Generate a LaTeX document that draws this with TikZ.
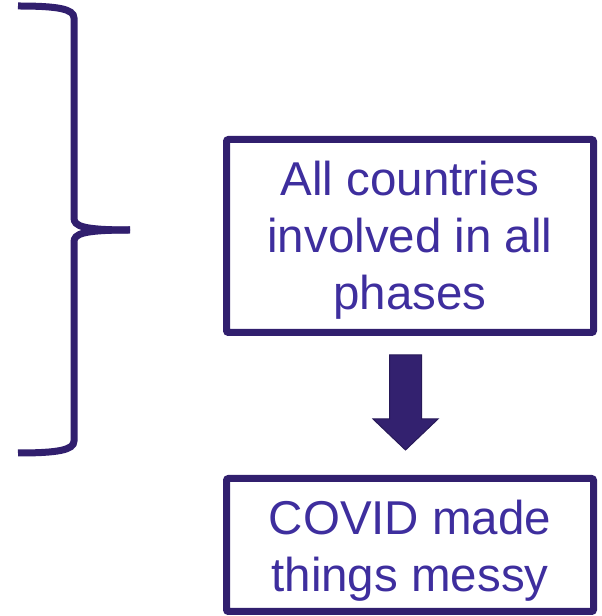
\documentclass[tikz,border=0pt]{standalone}
\usepackage{fontspec}
\setmainfont{Liberation Sans}
\definecolor{framec}{HTML}{311F6E}
\definecolor{textc}{HTML}{3E2E9E}
\definecolor{arrowc}{HTML}{33216F}
\begin{document}
\begin{tikzpicture}[x=1pt,y=1pt,
  boxstyle/.style={draw=framec, line width=7pt, rounded corners=2pt, rectangle, minimum width=367pt, inner sep=0pt},
  txt/.style={text=textc, align=center, font=\fontsize{47.5}{57}\selectfont, inner sep=0pt},
  bracestyle/.style={draw=framec, line width=7pt},
  arrowstyle/.style={fill=arrowc, draw=framec!80!black, line width=1pt, line join=miter}]
\useasboundingbox (0,0) rectangle (602,616);
% boxes
\node[boxstyle, minimum height=193pt] (box1) at (410,380) {};
\node[txt] (t1) at ([yshift=-4pt]box1.center) {All countries\\involved in all\\phases};
\node[boxstyle, minimum height=133pt] (box2) at (410,71) {};
\node[txt] (t2) at ([yshift=-6pt]box2.center) {COVID made\\things messy};
% arrow
\coordinate (at) at ([xshift=-4.5pt,yshift=-19pt]box1.south);
\draw[arrowstyle] ([xshift=-16pt]at) -- ([xshift=16pt]at) -- ([xshift=16pt,yshift=-64pt]at)
  -- ([xshift=32.5pt,yshift=-64pt]at) -- ([yshift=-95pt]at) -- ([xshift=-32.5pt,yshift=-64pt]at)
  -- ([xshift=-16pt,yshift=-64pt]at) -- cycle;
% brace
\coordinate (btop) at (18,610);
\coordinate (btip) at (130,386);
\coordinate (bbot) at (18,163);
\draw[bracestyle] (btop) .. controls (58,610) and (74,607) .. (74,598) -- (74,398)
  .. controls (74,390) and (82,386) .. (btip);
\draw[bracestyle] (btip) .. controls (82,386) and (74,382) .. (74,374) -- (74,175)
  .. controls (74,166) and (58,163) .. (bbot);
\end{tikzpicture}
\end{document}
